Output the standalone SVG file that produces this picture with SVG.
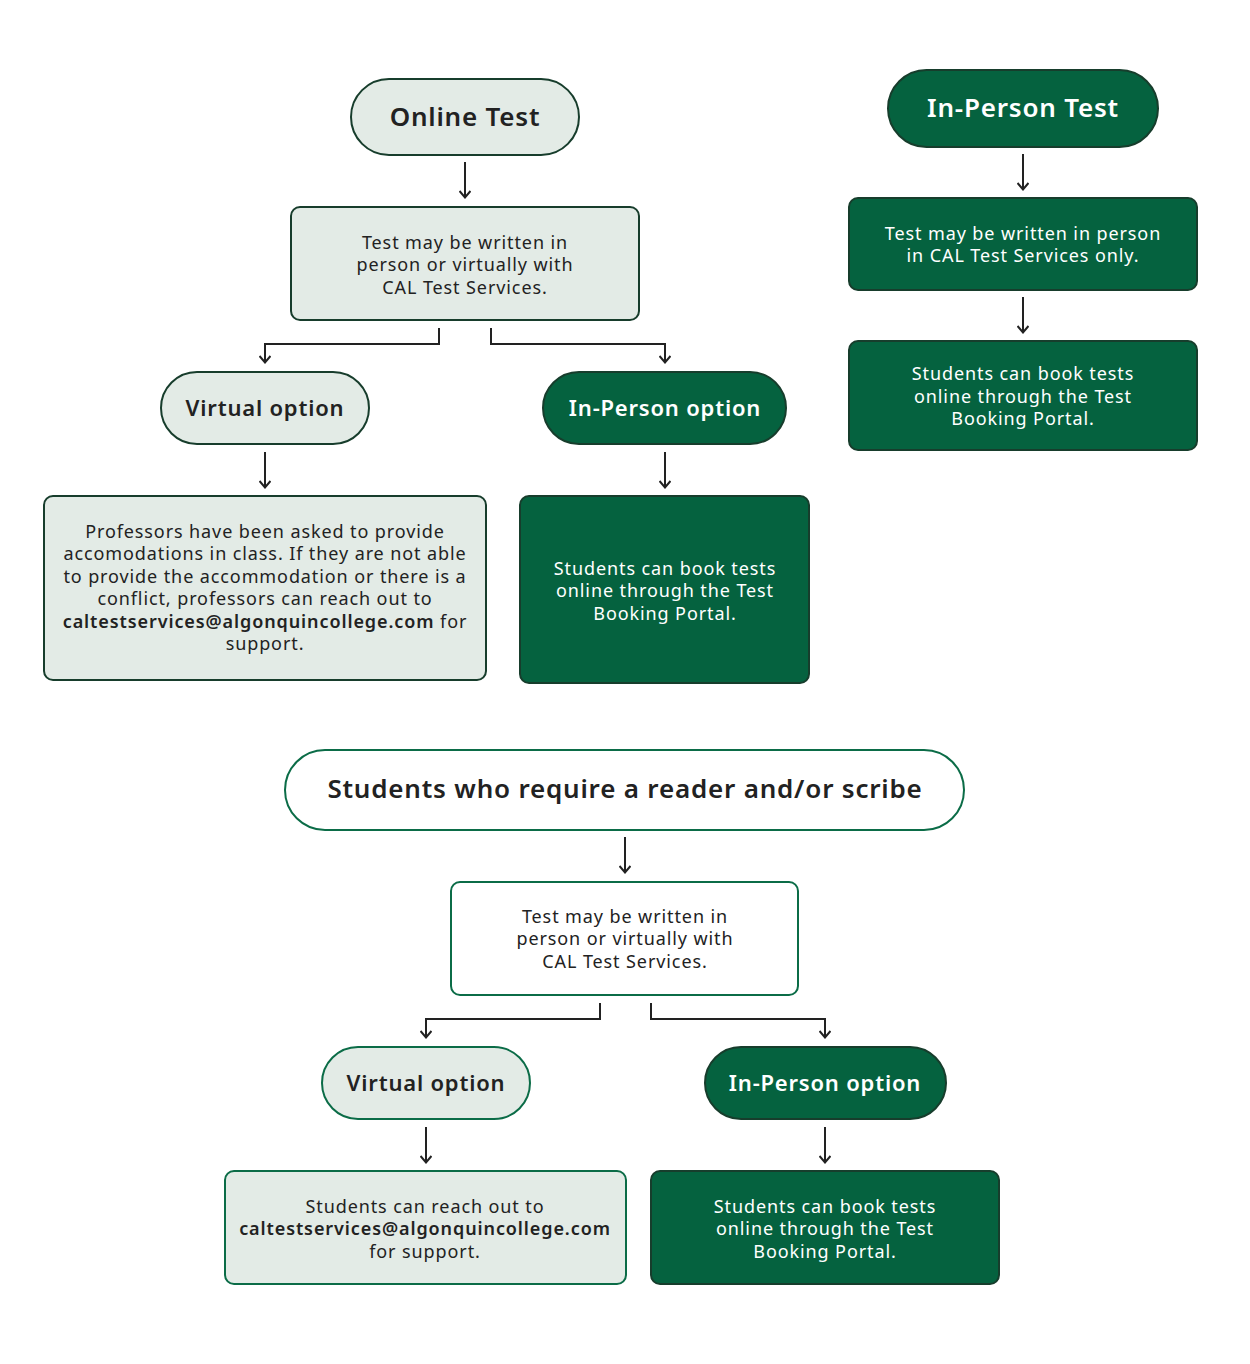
<svg xmlns="http://www.w3.org/2000/svg" width="1250" height="1364" viewBox="0 0 1250 1364">
<defs>
<marker id="ah" viewBox="0 0 10 12" refX="9" refY="6" markerWidth="10" markerHeight="12" markerUnits="userSpaceOnUse" orient="auto">
<path d="M2,0.5 L8.5,6 L2,11.5" fill="none" stroke="#222" stroke-width="2"/>
</marker>
<style>
.bg{fill:#ffffff}
.pl{fill:#e3ebe6;stroke:#173d2c;stroke-width:2}
.pd{fill:#05623f;stroke:#173d2c;stroke-width:2}
.pw{fill:#ffffff;stroke:#0b6c47;stroke-width:2}
.plg{fill:#e3ebe6;stroke:#0b6c47;stroke-width:2}
.t{font-family:"Noto Sans","Open Sans",sans-serif;font-weight:600;text-anchor:middle;letter-spacing:0.8px}
.b{font-family:"Noto Sans","Open Sans",sans-serif;font-size:18px;text-anchor:middle;letter-spacing:0.9px}
.dk{fill:#222222}
.wt{fill:#ffffff}
.c{fill:none;stroke:#222;stroke-width:2}
.em{font-weight:600}
</style>
</defs>
<rect class="bg" x="0" y="0" width="1250" height="1364"/>

<g id="connectors">
<line class="c" x1="465" y1="162" x2="465" y2="198" marker-end="url(#ah)"/>
<polyline class="c" points="439,328 439,344 265,344 265,363" marker-end="url(#ah)"/>
<polyline class="c" points="491,328 491,344 665,344 665,363" marker-end="url(#ah)"/>
<line class="c" x1="265" y1="452" x2="265" y2="488" marker-end="url(#ah)"/>
<line class="c" x1="665" y1="452" x2="665" y2="488" marker-end="url(#ah)"/>
<line class="c" x1="1023" y1="154" x2="1023" y2="190" marker-end="url(#ah)"/>
<line class="c" x1="1023" y1="297" x2="1023" y2="333" marker-end="url(#ah)"/>
<line class="c" x1="625" y1="837" x2="625" y2="873" marker-end="url(#ah)"/>
<polyline class="c" points="600,1003 600,1019 426,1019 426,1038" marker-end="url(#ah)"/>
<polyline class="c" points="651,1003 651,1019 825,1019 825,1038" marker-end="url(#ah)"/>
<line class="c" x1="426" y1="1127" x2="426" y2="1163" marker-end="url(#ah)"/>
<line class="c" x1="825" y1="1127" x2="825" y2="1163" marker-end="url(#ah)"/>
</g>

<g id="online-test">
<rect class="pl" x="351" y="79" width="228" height="76" rx="38"/>
<text class="t dk" x="465" y="126" font-size="26">Online Test</text>
</g>
<g id="online-desc">
<rect class="pl" x="291" y="207" width="348" height="113" rx="9"/>
<text class="b dk" x="465" y="249">Test may be written in</text>
<text class="b dk" x="465" y="271">person or virtually with</text>
<text class="b dk" x="465" y="294">CAL Test Services.</text>
</g>
<g id="virtual-option-1">
<rect class="pl" x="161" y="372" width="208" height="72" rx="36"/>
<text class="t dk" x="265" y="416" font-size="22">Virtual option</text>
</g>
<g id="inperson-option-1">
<rect class="pd" x="543" y="372" width="243" height="72" rx="36"/>
<text class="t wt" x="665" y="416" font-size="22">In-Person option</text>
</g>
<g id="professors-box">
<rect class="pl" x="44" y="496" width="442" height="184" rx="9"/>
<text class="b dk" x="265" y="538">Professors have been asked to provide</text>
<text class="b dk" x="265" y="560">accomodations in class. If they are not able</text>
<text class="b dk" x="265" y="583">to provide the accommodation or there is a</text>
<text class="b dk" x="265" y="605">conflict, professors can reach out to</text>
<text class="b dk" x="265" y="628"><tspan class="em">caltestservices@algonquincollege.com</tspan> for</text>
<text class="b dk" x="265" y="650">support.</text>
</g>
<g id="booking-1">
<rect class="pd" x="520" y="496" width="289" height="187" rx="9"/>
<text class="b wt" x="665" y="575">Students can book tests</text>
<text class="b wt" x="665" y="597">online through the Test</text>
<text class="b wt" x="665" y="620">Booking Portal.</text>
</g>

<g id="inperson-test">
<rect class="pd" x="888" y="70" width="270" height="77" rx="38.5"/>
<text class="t wt" x="1023" y="117" font-size="26">In-Person Test</text>
</g>
<g id="inperson-desc">
<rect class="pd" x="849" y="198" width="348" height="92" rx="9"/>
<text class="b wt" x="1023" y="240">Test may be written in person</text>
<text class="b wt" x="1023" y="262">in CAL Test Services only.</text>
</g>
<g id="booking-2">
<rect class="pd" x="849" y="341" width="348" height="109" rx="9"/>
<text class="b wt" x="1023" y="380">Students can book tests</text>
<text class="b wt" x="1023" y="403">online through the Test</text>
<text class="b wt" x="1023" y="425">Booking Portal.</text>
</g>

<g id="reader-scribe">
<rect class="pw" x="285" y="750" width="679" height="80" rx="40"/>
<text class="t dk" x="625" y="798" font-size="26">Students who require a reader and/or scribe</text>
</g>
<g id="reader-desc">
<rect class="pw" x="451" y="882" width="347" height="113" rx="9"/>
<text class="b dk" x="625" y="923">Test may be written in</text>
<text class="b dk" x="625" y="945">person or virtually with</text>
<text class="b dk" x="625" y="968">CAL Test Services.</text>
</g>
<g id="virtual-option-2">
<rect class="plg" x="322" y="1047" width="208" height="72" rx="36"/>
<text class="t dk" x="426" y="1091" font-size="22">Virtual option</text>
</g>
<g id="inperson-option-2">
<rect class="pd" x="705" y="1047" width="241" height="72" rx="36"/>
<text class="t wt" x="825" y="1091" font-size="22">In-Person option</text>
</g>
<g id="reach-out">
<rect class="plg" x="225" y="1171" width="401" height="113" rx="9"/>
<text class="b dk" x="425" y="1213">Students can reach out to</text>
<text class="b dk em" x="425" y="1235">caltestservices@algonquincollege.com</text>
<text class="b dk" x="425" y="1258">for support.</text>
</g>
<g id="booking-3">
<rect class="pd" x="651" y="1171" width="348" height="113" rx="9"/>
<text class="b wt" x="825" y="1213">Students can book tests</text>
<text class="b wt" x="825" y="1235">online through the Test</text>
<text class="b wt" x="825" y="1258">Booking Portal.</text>
</g>
</svg>
